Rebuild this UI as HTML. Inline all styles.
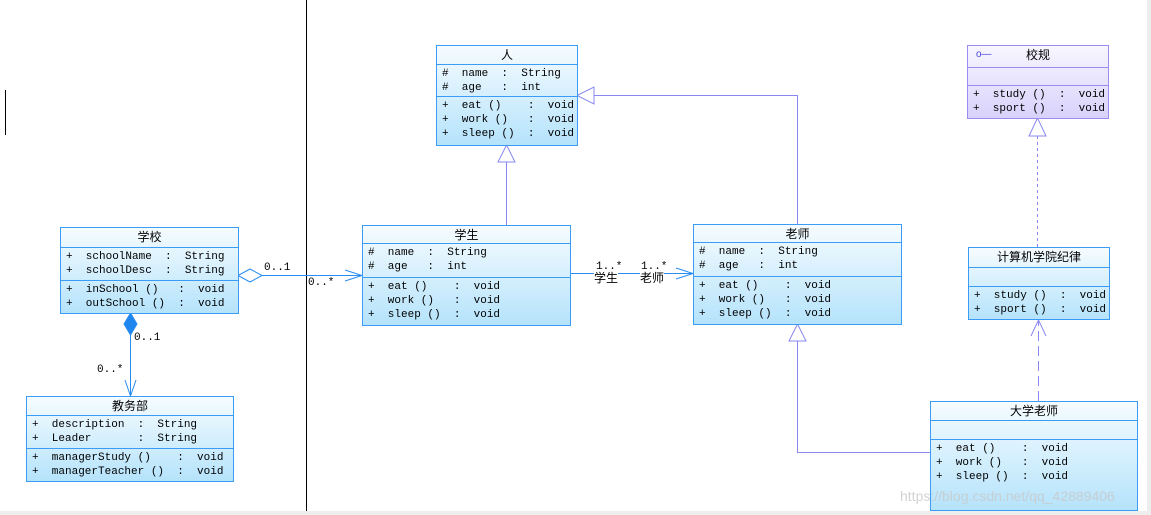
<!DOCTYPE html>
<html><head><meta charset="utf-8"><style>
body{margin:0;width:1151px;height:515px;background:#fff;position:relative;overflow:hidden;font-family:"Liberation Mono","Noto Sans CJK SC",monospace;}
.b{position:absolute;border:1px solid #3a9cf5;background:linear-gradient(#f6fcff,#b5e3fb);box-sizing:border-box;font-size:11px;color:#000;}
.b.p{border-color:#9a8cf0;background:linear-gradient(#f8f6ff,#d8d2fb);}
.t{text-align:center;font-family:"Liberation Sans","Noto Sans CJK SC",sans-serif;font-size:12px;border-bottom:1px solid #3a9cf5;box-sizing:border-box;line-height:18px}
.p .t,.p .s{border-color:#9a8cf0}
.s{border-bottom:1px solid #3a9cf5;box-sizing:border-box;white-space:pre;padding-left:5px;line-height:14px;padding-top:2px}
.s:last-child{border-bottom:none}
svg{position:absolute;left:0;top:0}
.l{position:absolute;font-size:11px;white-space:pre;line-height:12px;font-family:"Liberation Mono","Noto Sans CJK SC",monospace}
</style></head><body>
<svg width="1151" height="515">
<line x1="306.5" y1="0" x2="306.5" y2="515" stroke="#000"/>
<line x1="5.5" y1="90" x2="5.5" y2="135" stroke="#000"/>
<rect x="0" y="511" width="1151" height="4" fill="#eee"/>
<rect x="1147" y="0" width="4" height="515" fill="#eee"/>
<g stroke="#8888f0" fill="#fff">
<line x1="506.5" y1="225" x2="506.5" y2="162"/>
<polygon points="506.5,145 498,162 515,162"/>
<polyline points="797.5,224 797.5,95.5 594,95.5" fill="none"/>
<polygon points="577,95.5 594,87 594,104"/>
<polyline points="930,452.5 797.5,452.5 797.5,341" fill="none"/>
<polygon points="797.5,324 789,341 806,341"/>
<line x1="1037.5" y1="247" x2="1037.5" y2="136" stroke-dasharray="3,3"/>
<polygon points="1037.5,118 1029,136 1046,136"/>
<line x1="1038.5" y1="401" x2="1038.5" y2="320" stroke-dasharray="10,5"/>
<polyline points="1031,336 1038.5,320 1046,336" fill="none"/>
</g>
<g stroke="#2a8cf0" fill="none">
<line x1="570" y1="273.5" x2="693" y2="273.5"/>
<polyline points="676,268 693,273.5 676,279"/>
<line x1="262" y1="275.5" x2="362" y2="275.5"/>
<polygon points="238,275.5 250,269 262,275.5 250,282" fill="#fff"/>
<polyline points="345,270 362,275.5 345,281"/>
<line x1="130.5" y1="335" x2="130.5" y2="396"/>
<polygon points="130.5,313 137,324 130.5,335 124,324" fill="#1f86f0"/>
<polyline points="125,380 130.5,396 136,380"/>
</g>
</svg>
<div class="l" style="left:264px;top:262px">0..1</div>
<div class="l" style="left:308px;top:277px">0..*</div>
<div class="l" style="left:134px;top:332px">0..1</div>
<div class="l" style="left:97px;top:364px">0..*</div>
<div class="l" style="left:596px;top:261px">1..*</div>
<div class="l" style="left:594px;top:271px;background:#fff;font-family:'Noto Sans CJK SC',sans-serif;font-size:12px;line-height:14px">学生</div>
<div class="l" style="left:641px;top:261px">1..*</div>
<div class="l" style="left:640px;top:271px;background:#fff;font-family:'Noto Sans CJK SC',sans-serif;font-size:12px;line-height:14px">老师</div>

<div class="b" style="left:436px;top:45px;width:142px;height:101px"><div class="t" style="height:19px">人</div><div class="s" style="height:32px">#  name  :  String
#  age   :  int</div><div class="s">+  eat ()    :  void
+  work ()   :  void
+  sleep ()  :  void</div></div>

<div class="b" style="left:362px;top:225px;width:209px;height:101px"><div class="t" style="height:18px">学生</div><div class="s" style="height:34px">#  name  :  String
#  age   :  int</div><div class="s">+  eat ()    :  void
+  work ()   :  void
+  sleep ()  :  void</div></div>

<div class="b" style="left:693px;top:224px;width:209px;height:101px"><div class="t" style="height:18px">老师</div><div class="s" style="height:34px">#  name  :  String
#  age   :  int</div><div class="s">+  eat ()    :  void
+  work ()   :  void
+  sleep ()  :  void</div></div>

<div class="b" style="left:60px;top:227px;width:179px;height:87px"><div class="t" style="height:20px">学校</div><div class="s" style="height:33px">+  schoolName  :  String
+  schoolDesc  :  String</div><div class="s">+  inSchool ()   :  void
+  outSchool ()  :  void</div></div>

<div class="b" style="left:26px;top:396px;width:208px;height:86px"><div class="t" style="height:19px">教务部</div><div class="s" style="height:33px">+  description  :  String
+  Leader       :  String</div><div class="s">+  managerStudy ()    :  void
+  managerTeacher ()  :  void</div></div>

<div class="b p" style="left:967px;top:45px;width:142px;height:74px"><div class="t" style="height:22px;position:relative"><span style="position:absolute;left:8px;top:0;color:#44d;font-size:10px">o—</span>校规</div><div class="s" style="height:18px"> </div><div class="s">+  study ()  :  void
+  sport ()  :  void</div></div>

<div class="b" style="left:968px;top:247px;width:142px;height:73px"><div class="t" style="height:20px">计算机学院纪律</div><div class="s" style="height:19px"> </div><div class="s">+  study ()  :  void
+  sport ()  :  void</div></div>

<div class="b" style="left:930px;top:401px;width:208px;height:110px"><div class="t" style="height:19px">大学老师</div><div class="s" style="height:19px"> </div><div class="s">+  eat ()    :  void
+  work ()   :  void
+  sleep ()  :  void</div></div>
<div class="l" style="left:900px;top:488px;color:rgba(200,200,200,0.8);font-family:'Liberation Sans',sans-serif;font-size:14px;line-height:16px">https://blog.csdn.net/qq_42889406</div>
</body></html>
